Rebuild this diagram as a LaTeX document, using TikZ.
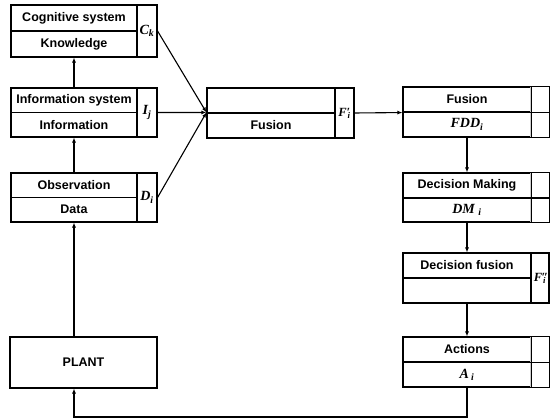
\documentclass[tikz,border=0pt]{standalone}
\usepackage{fontspec}
\setmainfont{Liberation Sans}
\newfontfamily\tnr{Liberation Serif}
\usetikzlibrary{arrows.meta}
\newcommand\lbl[1]{{\tnr\bfseries\itshape\fontsize{14}{16}\selectfont #1}}
\newcommand\slbl[1]{{\tnr\bfseries\itshape\fontsize{12.5}{14}\selectfont #1}}
\begin{document}
\begin{tikzpicture}[x=1pt,y=-1pt,
  box/.style={draw, line width=1.1pt},
  cell/.style={box, inner sep=0pt, font=\bfseries\fontsize{12.5}{14}\selectfont},
  gcol/.style={draw=none, inner sep=0pt},
  arr/.style={line width=1.1pt, -{Latex[length=5pt,width=4pt]}}]
\useasboundingbox (0,0) rectangle (550,419);
% Cognitive system
\node[cell, minimum width=126pt, minimum height=26pt] (cogT) at (74,18) {Cognitive system};
\node[cell, minimum width=126pt, minimum height=26pt] (cogB) at (74,44) {Knowledge};
\node[cell, minimum width=20pt, minimum height=52pt] (cogC) at (147,31) {\lbl{C\textsubscript{k}}};
% Information system
\node[cell, minimum width=126pt, minimum height=24.5pt] (infT) at (74,100.25) {Information system};
\node[cell, minimum width=126pt, minimum height=24.5pt] (infB) at (74,124.75) {Information};
\node[cell, minimum width=20pt, minimum height=49pt] (infC) at (147,112.5) {\lbl{I\textsubscript{j}}};
% Observation
\node[cell, minimum width=126pt, minimum height=24.5pt] (obsT) at (74,185.25) {Observation};
\node[cell, minimum width=126pt, minimum height=24.5pt] (obsB) at (74,209.75) {Data};
\node[cell, minimum width=20pt, minimum height=49pt] (obsC) at (147,197.5) {\lbl{D\textsubscript{i}}};
% Central fusion
\node[cell, minimum width=128pt, minimum height=25pt] (fuT) at (271,100.5) {};
\node[cell, minimum width=128pt, minimum height=25pt] (fuB) at (271,125.5) {Fusion};
\node[cell, minimum width=19pt, minimum height=50pt] (fuC) at (344.5,113) {\slbl{F′\kern-2.5pt\textsubscript{i}}};
% Right fusion
\node[cell, minimum width=128pt, minimum height=25pt] (frT) at (467,99.5) {Fusion};
\node[cell, minimum width=128pt, minimum height=25pt] (frB) at (467,124.5) {\lbl{FDD\textsubscript{i}}};
\node[gcol, minimum width=18pt, minimum height=50pt] (frC) at (540,112) {};
\draw[gray!40, line width=1pt] (frC.north west) -- (frC.south west);
\draw[box] (frT.north west) rectangle (frC.south east);
\draw[box] (frT.south west) -- (frT.south west -| frC.east);
% Decision making
\node[cell, minimum width=128pt, minimum height=24.5pt] (dmT) at (467,185.25) {Decision Making};
\node[cell, minimum width=128pt, minimum height=24.5pt] (dmB) at (467,209.75) {\lbl{DM \textsubscript{i}}};
\node[gcol, minimum width=18pt, minimum height=49pt] (dmC) at (540,197.5) {};
\draw[gray!40, line width=1pt] (dmC.north west) -- (dmC.south west);
\draw[box] (dmT.north west) rectangle (dmC.south east);
\draw[box] (dmT.south west) -- (dmT.south west -| dmC.east);
% Decision fusion
\node[cell, minimum width=128pt, minimum height=25pt] (dfT) at (467,265.5) {Decision fusion};
\node[cell, minimum width=128pt, minimum height=25pt] (dfB) at (467,290.5) {};
\node[cell, minimum width=18pt, minimum height=50pt] (dfC) at (540,278) {\slbl{F\kern-1pt″\kern-5pt\textsubscript{i}}};
% Actions
\node[cell, minimum width=128pt, minimum height=25pt] (acT) at (467,349.5) {Actions};
\node[cell, minimum width=128pt, minimum height=25pt] (acB) at (467,374.5) {\lbl{A\,\textsubscript{i}}};
\node[gcol, minimum width=18pt, minimum height=50pt] (acC) at (540,362) {};
\draw[gray!40, line width=1pt] (acC.north west) -- (acC.south west);
\draw[box] (acT.north west) rectangle (acC.south east);
\draw[box] (acT.south west) -- (acT.south west -| acC.east);
% Plant
\node[cell, minimum width=147pt, minimum height=51pt] (plant) at (83.5,362.5) {PLANT};
% connectors
\draw[arr] (plant.north -| obsB.south) -- (obsB.south);
\draw[arr] (obsT.north) -- (infB.south);
\draw[arr] (infT.north) -- (cogB.south);
\draw[arr] (cogC.east) -- (fuB.north west);
\draw[arr] (infC.east) -- (fuB.north west);
\draw[arr] (obsC.east) -- (fuB.north west);
\draw[arr] (fuC.east) -- (frT.south west);
\draw[arr] (frB.south) -- (dmT.north);
\draw[arr] (dmB.south) -- (dfT.north);
\draw[arr] (dfB.south) -- (acT.north);
\coordinate (fbL) at (74,417);
\draw[arr] (acB.south) |- (fbL) -- (fbL |- plant.south);
\end{tikzpicture}
\end{document}
